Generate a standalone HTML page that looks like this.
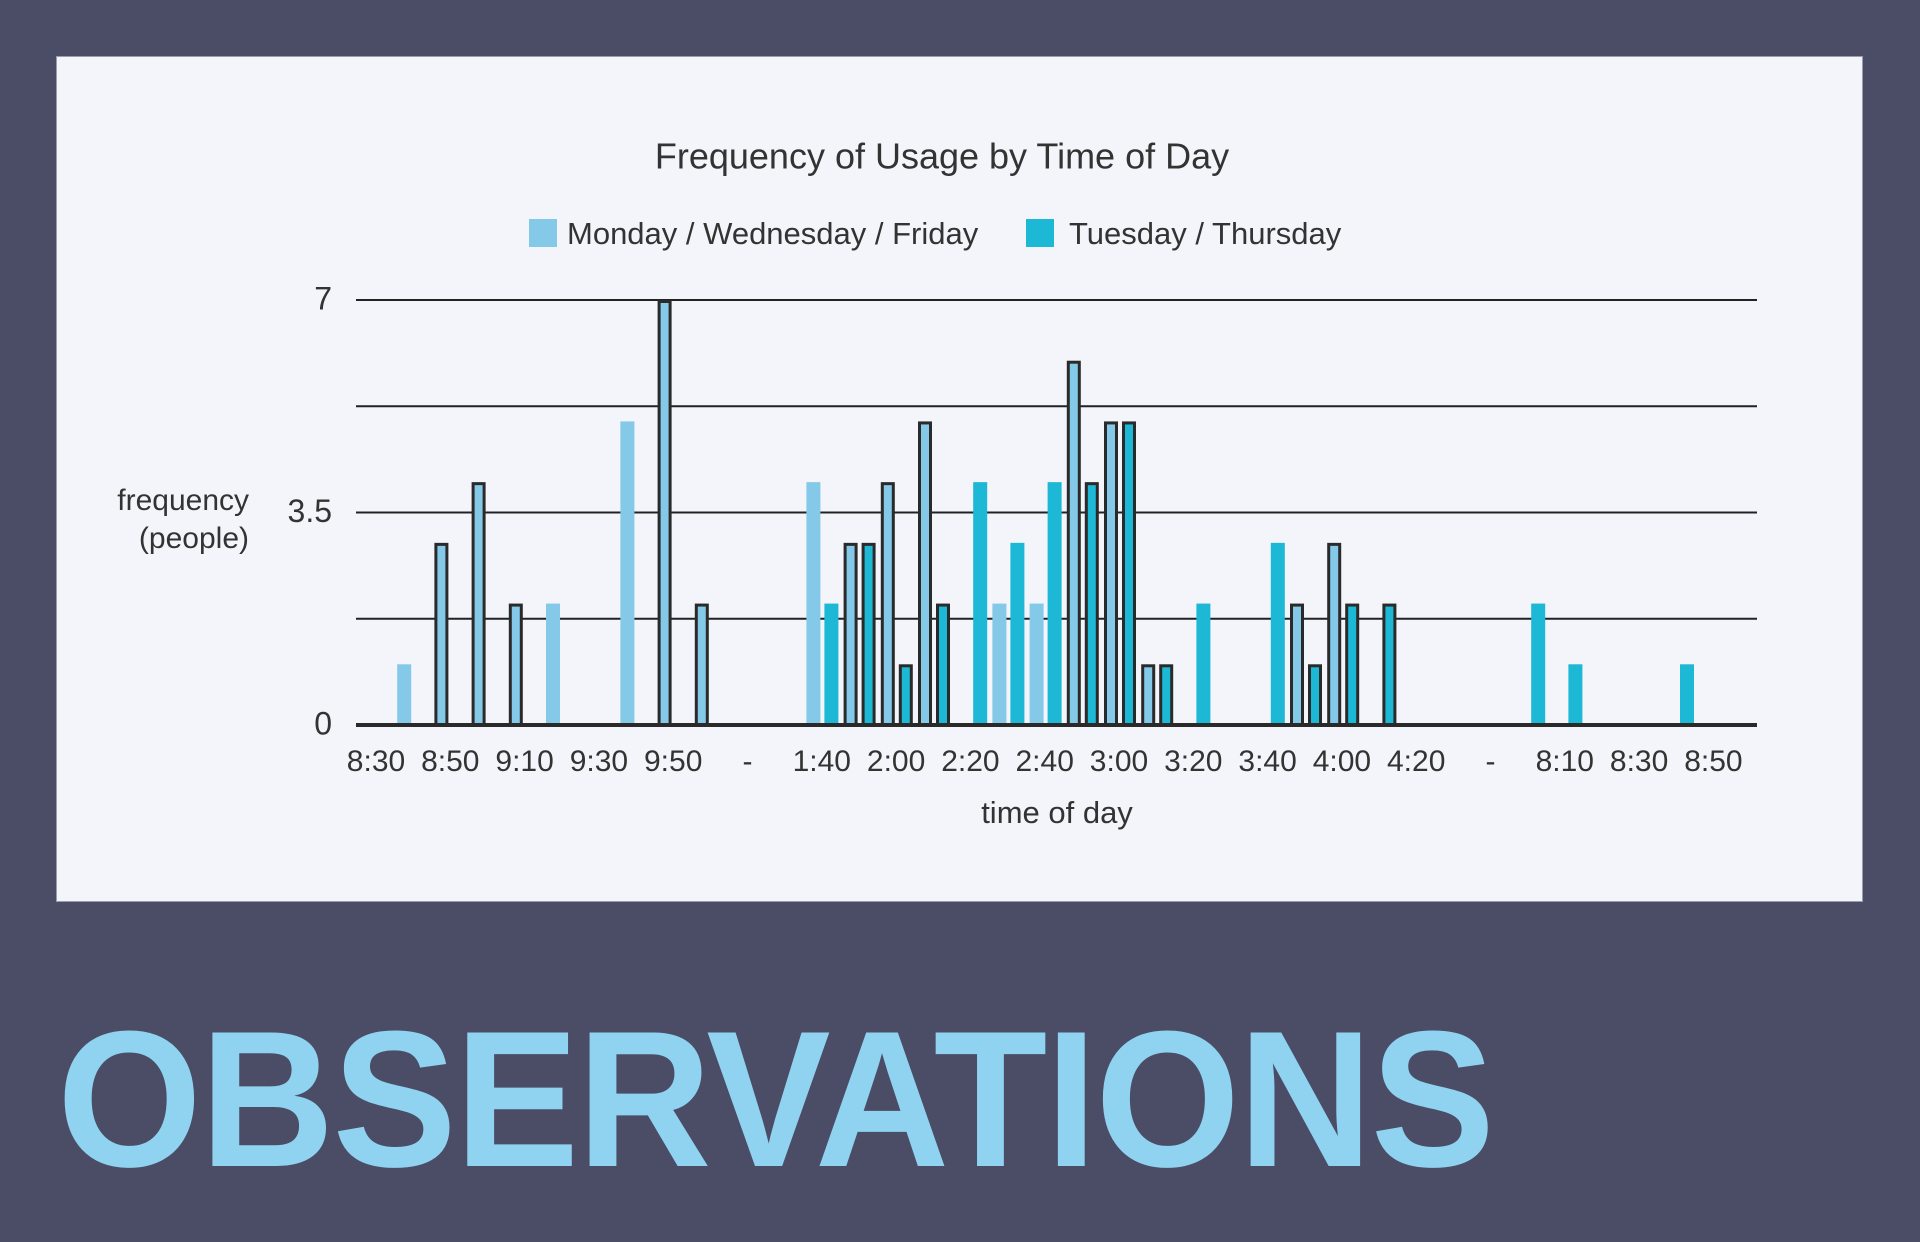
<!DOCTYPE html>
<html><head><meta charset="utf-8"><style>
html,body{margin:0;padding:0;}
body{width:1920px;height:1242px;background:#4B4C66;position:relative;overflow:hidden;font-family:"Liberation Sans",sans-serif;}
#panel{position:absolute;left:56px;top:56px;width:1805px;height:844px;background:#F3F5FA;border:1px solid #9a9cb0;}
#obs{position:absolute;left:57px;top:1003px;font-size:194px;font-weight:bold;color:#8FD3F0;letter-spacing:-2px;line-height:1;transform:scaleX(0.96);transform-origin:0 0;white-space:nowrap;}
svg{position:absolute;left:0;top:0;}
</style></head><body>
<div id="panel"></div>
<div id="obs">OBSERVATIONS</div>
<svg id="chart" width="1920" height="1242"></svg>
<script>
const tickLabels = ["8:30","8:50","9:10","9:30","9:50","-","1:40","2:00","2:20","2:40","3:00","3:20","3:40","4:00","4:20","-","8:10","8:30","8:50"];
const mwfSlots = [1,2,3,4,5,7,8,9,12,13,14,15,17,18,19,20,21,25,26];
const mwfValues = [1,3,4,2,2,5,7,2,4,3,4,5,2,2,6,5,1,2,3];
const mwfOutlined = [0,1,1,1,0,0,1,1,0,1,1,1,0,0,1,1,1,1,1];
const ttSlots = [12,13,14,15,16,17,18,19,20,21,22,24,25,26,27,31,32,35];
const ttValues = [2,3,1,2,4,3,4,4,5,1,2,3,1,2,2,2,1,1];
const ttOutlined = [0,1,1,1,0,0,0,1,1,1,0,0,1,1,1,0,0,0];
const yTicks = [0,1.75,3.5,5.25,7];
const yLabels = ["0","","3.5","","7"];

const NS="http://www.w3.org/2000/svg";
const svg=document.getElementById('chart');
const X0=356,X1=1757,Y0=725,YMAX=7,PLOT_H=425;
const xSlot=i=>376+i*37.2;
const yVal=v=>Y0-v/YMAX*PLOT_H;
function mk(tag,attrs){const e=document.createElementNS(NS,tag);for(const k in attrs)e.setAttribute(k,attrs[k]);svg.appendChild(e);return e;}
function txt(s,x,y,size,anchor,color){const t=mk('text',{x:x,y:y,'font-size':size,'text-anchor':anchor,fill:color||'#333','dominant-baseline':'middle'});t.textContent=s;return t;}

let t=txt("Frequency of Usage by Time of Day",942,159,36,'middle');



let r=mk('rect',{x:529,y:219,width:28,height:28,fill:'#85C9E8'});


t=txt("Monday / Wednesday / Friday",567,236,31,'start');


r=mk('rect',{x:1026,y:219,width:28,height:28,fill:'#1DB8D6'});


t=txt("Tuesday / Thursday",1069,236,31,'start');



yTicks.forEach((v,i)=>{
  const l=mk('line',{x1:X0,x2:X1,y1:yVal(v),y2:yVal(v),stroke:'#222','stroke-width':i===0?4:2});
  
  
  if(yLabels[i]){const tl=txt(yLabels[i],332,yVal(v)+1,32,'end');
    
    }
});
t=txt("frequency",249,502,30,'end');


t=txt("(people)",249,540,30,'end');



tickLabels.forEach((s,i)=>{
  const tl=txt(s,376+i*74.3,763,30,'middle');
  
  
});
t=txt("time of day",1057,815,31,'middle');



function drawBar(slot,val,outl,off,color,name){
  const cx=xSlot(slot)+off, w=14, top=yVal(val);
  let b;
  if(outl){
    b=mk('rect',{x:cx-w/2+1.5,y:top+1.5,width:w-3,height:Y0-top-1.5,fill:color,stroke:'#2a2a2a','stroke-width':3});
  } else {
    b=mk('rect',{x:cx-w/2,y:top,width:w,height:Y0-top,fill:color});
  }
  
  
}
mwfSlots.forEach((s,i)=>drawBar(s,mwfValues[i],mwfOutlined[i],-9,'#85C9E8','bar-mwf'));
ttSlots.forEach((s,i)=>drawBar(s,ttValues[i],ttOutlined[i],9,'#1DB8D6','bar-tt'));
mk('line',{x1:X0,x2:X1,y1:Y0,y2:Y0,stroke:'#2a2a2a','stroke-width':4});
</script>
</body></html>
